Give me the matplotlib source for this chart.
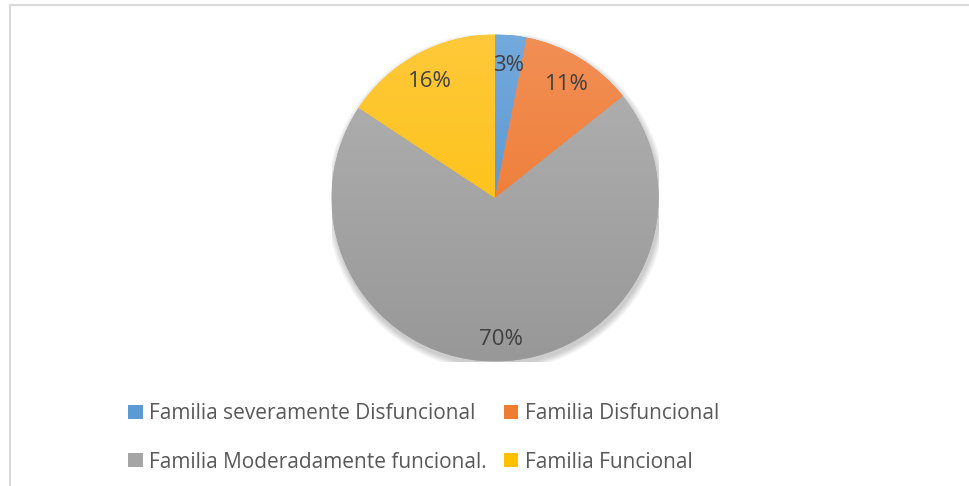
import numpy as np
import matplotlib
matplotlib.use("Agg")
import matplotlib.pyplot as plt
from matplotlib.patches import Rectangle, Circle
from matplotlib.colors import to_rgb

# Data
categories = ["Familia severamente Disfuncional", "Familia Disfuncional",
              "Familia Moderadamente funcional.", "Familia Funcional"]
values = [3.1, 11.2, 70.0, 15.7]
colors_top = ["#73AADD", "#F28F55", "#B2B2B2", "#FFC93A"]
colors_bottom = ["#4A8ACC", "#EC7223", "#989898", "#FBBE00"]
colors_mid = ["#5B9BD5", "#ED7D31", "#A5A5A5", "#FFC000"]

W, H = 969, 486
fig = plt.figure(figsize=(W / 100, H / 100), dpi=100)
fig.patch.set_facecolor("white")

# border lines (top & left) like the cropped chart frame
fig.add_artist(plt.Line2D([9.5 / W, 1], [1 - 5.5 / H, 1 - 5.5 / H], color="#D9D9D9", lw=1.5))
fig.add_artist(plt.Line2D([9.5 / W, 9.5 / W], [0, 1 - 5.5 / H], color="#D9D9D9", lw=1.5))

cx, cy, r = 495, 198, 163.5
ax = fig.add_axes([(cx - r) / W, (H - cy - r) / H, 2 * r / W, 2 * r / H])

# soft shadow
for i in range(10):
    rad = 1.0 + 0.004 * (10 - i)
    ax.add_patch(Circle((0.008, -0.022), rad, color="black", alpha=0.02, lw=0, zorder=0))

wedges, texts, autotexts = ax.pie(
    values, colors=colors_mid, startangle=90, counterclock=False,
    autopct="%1.0f%%", pctdistance=0.84, radius=1.0,
    wedgeprops=dict(linewidth=0),
    textprops=dict(color="#404040", fontsize=16, family=["Open Sans", "DejaVu Sans"]),
    frame=True,
)
ax.set_xlim(-1, 1)
ax.set_ylim(-1, 1)
ax.axis("off")

# gradient fill clipped to each wedge
n = 256
for w, ct, cb in zip(wedges, colors_top, colors_bottom):
    t = np.linspace(0, 1, n)[:, None]
    a, b = np.array(to_rgb(ct)), np.array(to_rgb(cb))
    img = (a * (1 - t) + b * t)[:, None, :]
    im = ax.imshow(img, extent=[-1, 1, -1, 1], aspect="auto", zorder=w.get_zorder() + 0.1,
                   interpolation="bilinear")
    im.set_clip_path(w)
for at in autotexts:
    x, y = at.get_position()
    at.set_position((x, y - 0.025))
    at.set_zorder(5)

# legend (row-major order: 0,1 / 2,3 -> column-major handles 0,2,1,3)
handles = [Rectangle((0, 0), 1, 1, facecolor=c, edgecolor="none") for c in colors_mid]
order = [0, 2, 1, 3]
leg = fig.legend([handles[i] for i in order], [categories[i] for i in order],
                 loc="upper left", ncol=2,
                 bbox_to_anchor=(118 / W, 1 - 393 / H), frameon=False, borderpad=0,
                 prop=dict(family=["Open Sans", "DejaVu Sans"], size=15.0),
                 handlelength=0.68, handleheight=0.68, handletextpad=0.3,
                 columnspacing=0.85, labelspacing=1.3)
for t in leg.get_texts():
    t.set_color("#595959")

fig.savefig("out.png", dpi=100, facecolor="white")
